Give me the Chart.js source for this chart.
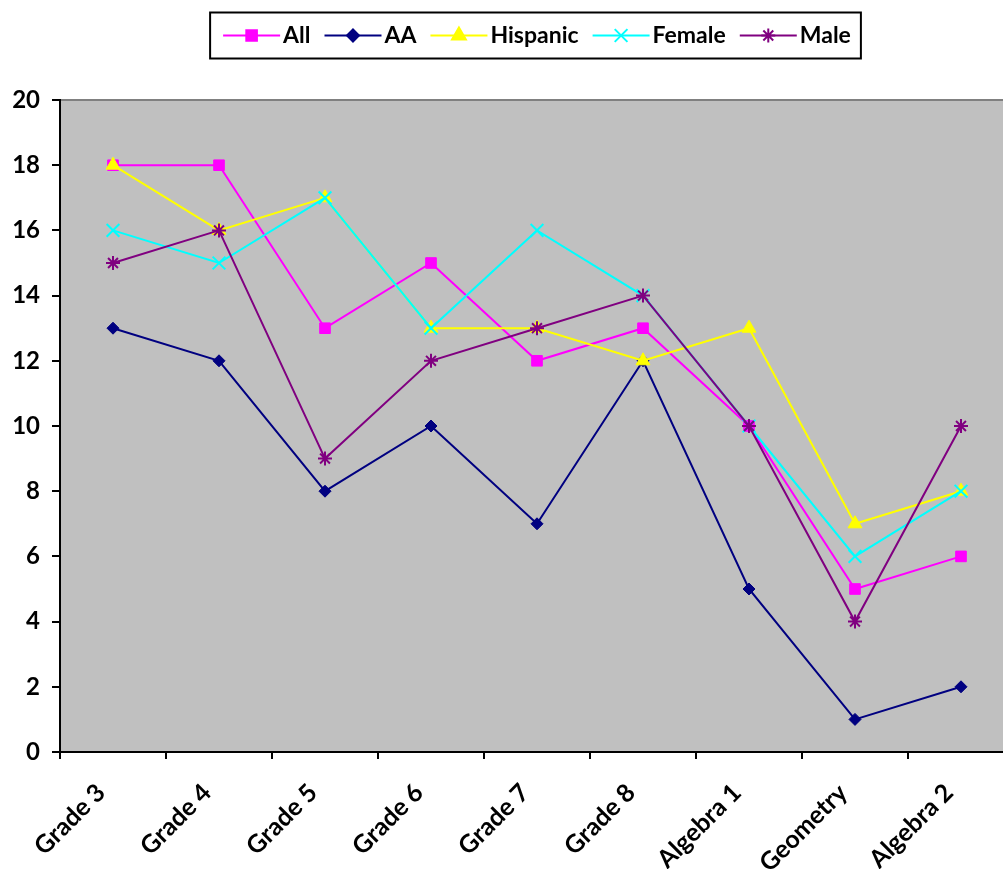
<!DOCTYPE html>
<html>
<head>
<meta charset="utf-8">
<script src="https://cdn.jsdelivr.net/npm/chart.js"></script>
<style>
  html, body { margin: 0; padding: 0; background: #fff; overflow: hidden; }
  #chart { display: block; }
</style>
</head>
<body>
<canvas id="chart" width="1003" height="869"></canvas>
<script>
// data
const categories = ['Grade 3', 'Grade 4', 'Grade 5', 'Grade 6', 'Grade 7', 'Grade 8', 'Algebra 1', 'Geometry', 'Algebra 2'];
const allValues      = [18, 18, 13, 15, 12, 13, 10, 5, 6];
const aaValues       = [13, 12, 8, 10, 7, 12, 5, 1, 2];
const hispanicValues = [18, 16, 17, 13, 13, 12, 13, 7, 8];
const femaleValues   = [16, 15, 17, 13, 16, 14, 10, 6, 8];
const maleValues     = [15, 16, 9, 12, 13, 14, 10, 4, 10];
const yTicks = [0, 2, 4, 6, 8, 10, 12, 14, 16, 18, 20];

const FONT = 'Lato, "Open Sans", sans-serif';

function series(label, data, color, style, radius, order) {
  return {
    label: label,
    data: data,
    borderColor: color,
    backgroundColor: color,
    borderWidth: 2,
    pointStyle: style,
    pointRadius: radius,
    pointBackgroundColor: color,
    pointBorderColor: color,
    pointBorderWidth: (style === 'crossRot' || style === 'star') ? 2 : 1,
    tension: 0,
    order: order
  };
}

const datasets = [
  series('All', allValues, '#FF00FF', 'rect', 7.5, 4),
  series('AA', aaValues, '#000080', 'rectRot', 6, 3),
  series('Hispanic', hispanicValues, '#FFFF00', 'triangle', 8, 2),
  series('Female', femaleValues, '#00FFFF', 'crossRot', 9, 1),
  series('Male', maleValues, '#800080', 'star', 7, 0)
];

// the plot area runs a little past the right edge of the picture
const PLOT_RIGHT = 1014;
const extendPlot = {
  id: 'extendPlot',
  afterLayout(chart) {
    const extra = PLOT_RIGHT - chart.chartArea.right;
    chart.chartArea.right += extra;
    chart.chartArea.width += extra;
    const x = chart.scales.x;
    x.right += extra;
    x.width += extra;
    x.configure();
    chart.legend.right += extra;
    chart.legend.width += extra;
  }
};

// grey plot background and top border
const plotBackground = {
  id: 'plotBackground',
  beforeDraw(chart) {
    const a = chart.chartArea, ctx = chart.ctx;
    ctx.save();
    ctx.fillStyle = '#C0C0C0';
    ctx.fillRect(a.left, a.top, a.right - a.left, a.bottom - a.top);
    ctx.strokeStyle = '#808080';
    ctx.lineWidth = 2;
    ctx.beginPath();
    ctx.moveTo(a.left, a.top);
    ctx.lineTo(a.right, a.top);
    ctx.stroke();
    ctx.restore();
  }
};

// legend: line + marker samples and a framed box
const legendDecor = {
  id: 'legendDecor',
  beforeInit(chart) {
    const fit = chart.legend.fit;
    chart.legend.fit = function () {
      fit.bind(chart.legend)();
      this.height += 43;
    };
  },
  afterDraw(chart) {
    const legend = chart.legend, ctx = chart.ctx;
    const boxes = legend.legendHitBoxes;
    if (!boxes || !boxes.length) return;
    ctx.save();
    boxes.forEach((hb, i) => {
      const ds = chart.data.datasets[legend.legendItems[i].datasetIndex];
      const cy = hb.top + hb.height / 2;
      ctx.strokeStyle = ds.borderColor;
      ctx.lineWidth = 2;
      ctx.beginPath();
      ctx.moveTo(hb.left, cy);
      ctx.lineTo(hb.left + 57, cy);
      ctx.stroke();
      ctx.fillStyle = ds.pointBackgroundColor;
      Chart.helpers.drawPoint(ctx, {
        pointStyle: ds.pointStyle,
        radius: ds.pointRadius,
        rotation: 0,
        borderWidth: ds.pointBorderWidth
      }, hb.left + 28.5, cy);
    });
    const first = boxes[0], last = boxes[boxes.length - 1];
    const cy = first.top + first.height / 2;
    ctx.strokeStyle = '#000';
    ctx.lineWidth = 2;
    ctx.strokeRect(first.left - 13, cy - 23, last.left + last.width - first.left + 23, 46);
    ctx.restore();
  }
};

new Chart(document.getElementById('chart'), {
  type: 'line',
  data: { labels: categories, datasets: datasets },
  options: {
    responsive: false,
    animation: false,
    layout: { padding: { top: 10, left: 0, right: 0, bottom: 0 } },
    plugins: {
      tooltip: { enabled: false },
      legend: {
        position: 'top',
        fullSize: false,
        labels: {
          boxWidth: 48.5,
          padding: 14,
          color: '#000',
          font: { family: FONT, size: 23, weight: 'bold' },
          sort: (a, b) => a.datasetIndex - b.datasetIndex,
          generateLabels(chart) {
            return Chart.defaults.plugins.legend.labels.generateLabels(chart).map(item => {
              item.fillStyle = 'rgba(0,0,0,0)';
              item.lineWidth = 0;
              return item;
            });
          }
        }
      }
    },
    scales: {
      x: {
        offset: true,
        grid: { offset: true, drawOnChartArea: false, color: '#000', tickLength: 7, lineWidth: 2 },
        border: { color: '#000', width: 2 },
        ticks: {
          color: '#000',
          font: { family: FONT, size: 25, weight: 'bold' },
          minRotation: 45,
          maxRotation: 45,
          autoSkip: false,
          labelOffset: -12,
          padding: 19
        },
        afterFit(scale) { scale.height = 117; }
      },
      y: {
        min: 0,
        max: 20,
        afterBuildTicks(scale) { scale.ticks = yTicks.map(v => ({ value: v })); },
        grid: { drawOnChartArea: false, color: '#000', tickLength: 8, lineWidth: 2 },
        border: { color: '#000', width: 2 },
        ticks: {
          color: '#000',
          font: { family: FONT, size: 24, weight: 'bold' },
          padding: 12
        },
        afterFit(scale) { scale.width = 60; }
      }
    }
  },
  plugins: [extendPlot, plotBackground, legendDecor]
});
</script>
</body>
</html>
